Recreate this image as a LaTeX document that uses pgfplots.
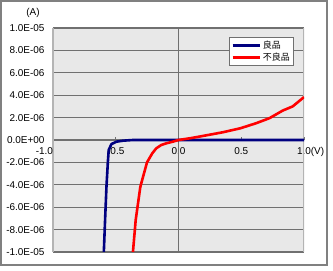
\documentclass[border=0pt]{standalone}
\usepackage{pgfplots}
\pgfplotsset{compat=1.18}
\usepackage{fontspec}
\setmainfont{Liberation Sans}
\newfontfamily\jp{Noto Sans CJK JP}
\definecolor{bgc}{RGB}{232,232,232}
\definecolor{gridc}{RGB}{112,112,112}
\definecolor{edgec}{RGB}{180,180,180}
\definecolor{framec}{RGB}{128,128,128}
\definecolor{navyc}{RGB}{0,0,128}
\begin{document}
\begin{tikzpicture}
\begin{axis}[
  at={(0,0)}, anchor=south west,
  scale only axis, width=251bp, height=224bp,
  xmin=-1, xmax=1, ymin=-1e-5, ymax=1e-5,
  axis background/.style={fill=bgc},
  axis x line*=middle, axis y line*=left,
  x axis line style={draw=gridc, line width=1.2bp, -},
  y axis line style={draw=edgec, line width=1.2bp, -},
  hide obscured x ticks=false, hide obscured y ticks=false,
  xtick={-1,-0.5,0,0.5,1},
  xticklabels={\llap{-1.0},-0.5,0.0,0.5,1.0\rlap{(V)}},
  ytick={-1e-5,-8e-6,-6e-6,-4e-6,-2e-6,0,2e-6,4e-6,6e-6,8e-6,1e-5},
  yticklabels={-1.0E-05,-8.0E-06,-6.0E-06,-4.0E-06,-2.0E-06,0.0E+00,2.0E-06,4.0E-06,6.0E-06,8.0E-06,1.0E-05},
  scaled y ticks=false, scaled x ticks=false,
  ymajorgrids, major grid style={draw=gridc, line width=1.2bp},
  tick label style={font=\fontsize{10}{12}\selectfont},
  xticklabel style={yshift=-4bp},
  yticklabel style={xshift=-5bp},
  xtick style={draw=gridc, line width=1bp},
  major tick length=3bp,
  ytick style={draw=none},
  legend style={at={(0.960,0.960)}, anchor=north east, draw=gridc, line width=1.2bp,
    fill=white, font=\jp\fontsize{9}{10}\selectfont, inner sep=1.5bp,
    row sep=-1bp, legend cell align=left},
  legend image code/.code={\draw[#1] (0bp,0bp) -- (27bp,0bp);},
  clip=true,
]
\draw[gridc, line width=1.2bp] (axis cs:0,-1e-5) -- (axis cs:0,1e-5);
\draw[edgec, line width=1.2bp] (axis cs:1,-1e-5) -- (axis cs:1,1e-5);
\addplot[navyc, line width=2.6bp, line join=round] coordinates {
(-0.595,-1e-5) (-0.585,-7.14e-6) (-0.574,-4.17e-6) (-0.563,-2.0e-6)
(-0.556,-0.89e-6) (-0.534,-0.36e-6) (-0.494,-0.15e-6) (-0.442,-0.06e-6)
(-0.363,0) (1,0)};
\addlegendentry{良品}
\addplot[red, line width=2.6bp, line join=round] coordinates {
(-0.363,-1e-5) (-0.341,-7.14e-6) (-0.304,-4.17e-6) (-0.251,-2.0e-6)
(-0.209,-1.19e-6) (-0.177,-0.74e-6) (-0.138,-0.45e-6) (-0.098,-0.30e-6)
(-0.045,-0.15e-6) (0,0) (0.1,0.17e-6) (0.194,0.36e-6) (0.353,0.69e-6)
(0.494,1.05e-6) (0.619,1.5e-6) (0.725,1.95e-6) (0.831,2.63e-6)
(0.91,3.0e-6) (1.0,3.83e-6)};
\addlegendentry{不良品}
\end{axis}
\node[font=\fontsize{10}{12}\selectfont] at (-20bp,239bp) {(A)};
\draw[framec, line width=1.3bp] (-52bp,-13bp) rectangle (274bp,251bp);
\pgfresetboundingbox
\useasboundingbox (-53bp,-19bp) rectangle (280bp,252bp);
\end{tikzpicture}
\end{document}
